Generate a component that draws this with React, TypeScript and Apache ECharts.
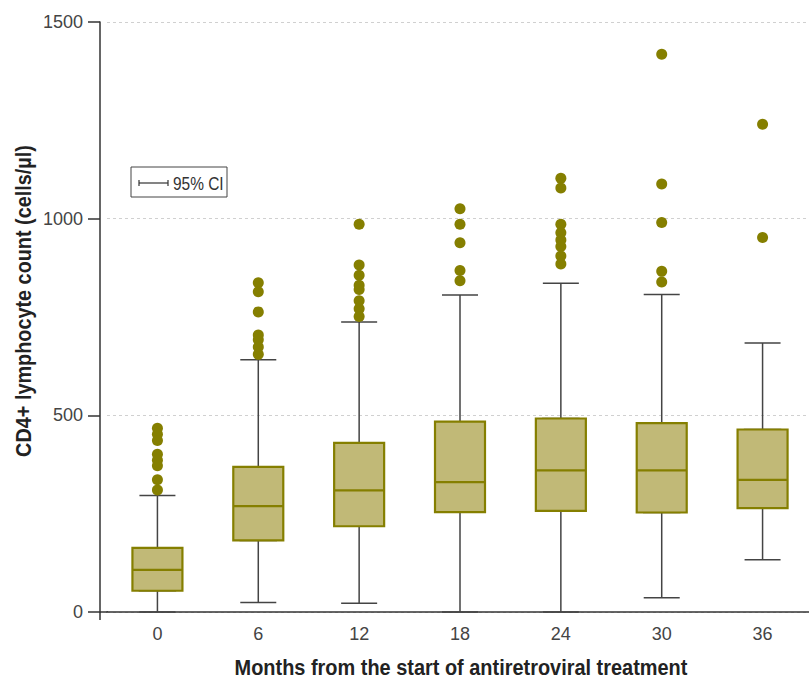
import React, { useEffect, useRef } from "react";
import * as echarts from "echarts";

const months = ["0", "6", "12", "18", "24", "30", "36"];
const whiskerLow = [0, 24, 22, 0, 0, 36, 133];
const q1 = [54, 182, 218, 254, 257, 253, 264];
const median = [107, 269, 309, 330, 360, 360, 336];
const q3 = [163, 369, 430, 484, 492, 480, 464];
const whiskerHigh = [296, 641, 737, 806, 836, 807, 684];

const outliersM0 = [467, 452, 436, 401, 386, 372, 336, 310];
const outliersM6 = [837, 814, 763, 704, 692, 674, 655];
const outliersM12 = [986, 882, 856, 831, 820, 791, 771, 751];
const outliersM18 = [1025, 986, 939, 868, 842];
const outliersM24 = [1103, 1078, 986, 964, 946, 929, 905, 885];
const outliersM30 = [1418, 1088, 990, 866, 839];
const outliersM36 = [1240, 952];
const outlierGroups = [outliersM0, outliersM6, outliersM12, outliersM18, outliersM24, outliersM30, outliersM36];

const yMin = 0;
const yMax = 1500;
const yInterval = 500;

const xTitle = "Months from the start of antiretroviral treatment";
const yTitle = "CD4+ lymphocyte count (cells/µl)";
const legendText = "95% CI";

const FONT = "'Liberation Sans', Arial, sans-serif";
const BOX_FILL = "#c1b977";
const BOX_STROKE = "#857f00";
const DOT = "#857f00";
const WHISKER = "#444444";

function measure(text: string, font: string): number {
  const c = document.createElement("canvas").getContext("2d");
  if (!c) return text.length * 10;
  c.font = font;
  return c.measureText(text).width;
}

export default function App() {
  const ref = useRef<HTMLDivElement>(null);
  useEffect(() => {
    if (!ref.current) return;
    const chart = echarts.init(ref.current, undefined, { renderer: "svg" });

    const whiskerData = months.map((_, i) => [whiskerLow[i], q1[i], median[i], q3[i], whiskerHigh[i]]);
    const boxData = months.map((_, i) => [q1[i], q1[i], median[i], q3[i], q3[i]]);
    const outlierData: number[][] = [];
    outlierGroups.forEach((g, i) => g.forEach((v) => outlierData.push([i, v])));

    const titleSize = 22;
    const xTitleScale = 453 / measure(xTitle, `bold ${titleSize}px 'Liberation Sans'`);
    const yTitleScale = 312 / measure(yTitle, `bold ${titleSize}px 'Liberation Sans'`);
    const legendScale = 48 / measure(legendText, `18px 'Liberation Sans'`);

    chart.setOption({
      animation: false,
      grid: { left: 107, top: 22, width: 706, height: 590, outerBoundsMode: "none", containLabel: false },
      xAxis: [
        {
          type: "category",
          data: months,
          axisLine: { lineStyle: { color: "#333", width: 1.5 } },
          axisTick: { show: false },
          axisLabel: { fontFamily: FONT, fontSize: 18, color: "#444", margin: 13 },
          splitLine: { show: false },
        },
        {
          type: "category",
          data: months,
          show: false,
        },
      ],
      yAxis: {
        type: "value",
        min: yMin,
        max: yMax,
        interval: yInterval,
        offset: 7,
        axisLine: { show: true, lineStyle: { color: "#333", width: 1.5 } },
        axisTick: { show: true, length: 12, lineStyle: { color: "#333", width: 1.5 } },
        axisLabel: {
          fontFamily: FONT,
          fontSize: 18,
          color: "#444",
          margin: 17,
          formatter: (v: number) => String(v),
        },
        splitLine: { show: true, lineStyle: { color: "#d0d0d0", type: [3, 3], width: 1 } },
      },
      series: [
        {
          type: "boxplot",
          xAxisIndex: 1,
          data: whiskerData,
          boxWidth: [36, 36],
          itemStyle: { color: "transparent", borderColor: WHISKER, borderWidth: 1.5 },
          silent: true,
        },
        {
          type: "boxplot",
          xAxisIndex: 0,
          data: boxData,
          boxWidth: [50, 50],
          itemStyle: { color: BOX_FILL, borderColor: BOX_STROKE, borderWidth: 2.2 },
          silent: true,
        },
        {
          type: "scatter",
          xAxisIndex: 0,
          data: outlierData,
          symbol: "circle",
          symbolSize: 11,
          itemStyle: { color: DOT, opacity: 1 },
          silent: true,
        },
      ],
      graphic: [
        {
          type: "text",
          x: 23,
          y: 301,
          rotation: Math.PI / 2,
          scaleX: yTitleScale,
          style: {
            text: yTitle,
            fontFamily: FONT,
            fontSize: titleSize,
            fontWeight: "bold",
            fill: "#222",
            align: "center",
            verticalAlign: "middle",
          },
        },
        {
          type: "text",
          x: 461,
          y: 667,
          scaleX: xTitleScale,
          style: {
            text: xTitle,
            fontFamily: FONT,
            fontSize: titleSize,
            fontWeight: "bold",
            fill: "#222",
            align: "center",
            verticalAlign: "middle",
          },
        },
        {
          type: "line",
          shape: { x1: 100, y1: 612, x2: 108, y2: 612 },
          style: { stroke: "#333", lineWidth: 1.5 },
        },
        {
          type: "line",
          shape: { x1: 100, y1: 612, x2: 100, y2: 620 },
          style: { stroke: "#333", lineWidth: 1.5 },
        },
        {
          type: "group",
          children: [
            {
              type: "rect",
              shape: { x: 131, y: 167, width: 96, height: 30 },
              style: { fill: "#fff", stroke: "#444", lineWidth: 1 },
            },
            { type: "line", shape: { x1: 139, y1: 183, x2: 168, y2: 183 }, style: { stroke: "#333", lineWidth: 1.2 } },
            { type: "line", shape: { x1: 139, y1: 180, x2: 139, y2: 186 }, style: { stroke: "#333", lineWidth: 1.2 } },
            { type: "line", shape: { x1: 168, y1: 180, x2: 168, y2: 186 }, style: { stroke: "#333", lineWidth: 1.2 } },
            {
              type: "text",
              x: 173,
              y: 183,
              scaleX: legendScale,
              style: {
                text: legendText,
                fontFamily: FONT,
                fontSize: 19,
                fill: "#333",
                align: "left",
                verticalAlign: "middle",
              },
            },
          ],
        },
      ],
    });
    return () => chart.dispose();
  }, []);
  return (
    <div
      ref={ref}
      style={{ position: "fixed", left: 0, top: 0, width: 809, height: 679, background: "#fff" }}
    />
  );
}
